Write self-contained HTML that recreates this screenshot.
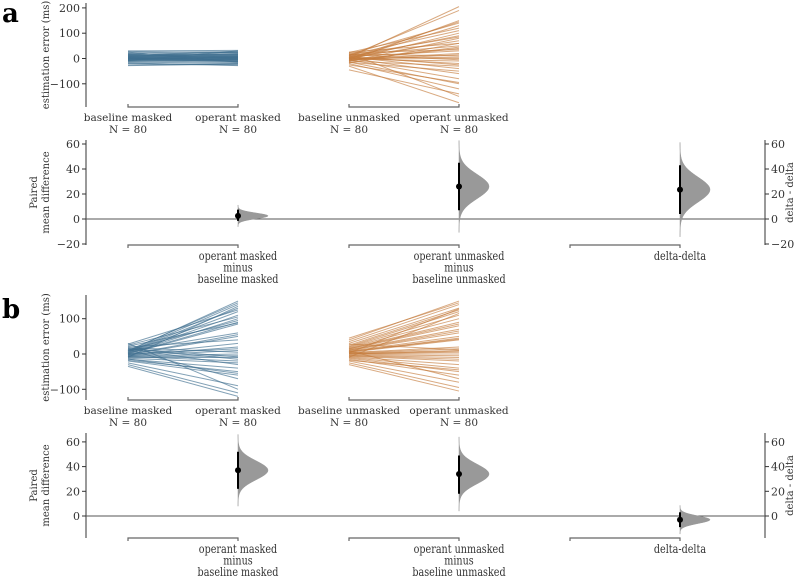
<!DOCTYPE html>
<html><head><meta charset="utf-8"><style>
body{margin:0;background:#fff}
svg{display:block;font-family:"DejaVu Serif","Liberation Serif",serif}
text{fill:#333}
</style></head><body>
<svg id="c" width="800" height="576" viewBox="0 0 800 576" xmlns="http://www.w3.org/2000/svg">
<text x="2" y="22" font-size="26" font-weight="bold" style="fill:#000">a</text>
<text x="2" y="318" font-size="26" font-weight="bold" style="fill:#000">b</text>
</svg>
<script>
const aMaskedBase=[-28,-20,-15,-12,-10,-8,-6,-5,-4,-3,-2,-1,0,0,1,2,3,4,5,6,7,8,9,10,12,14,16,18,20,22,25,28,-25,-18,-9,-7,3,11,15,30];
const aMaskedOp=[-22,-25,-18,-5,-14,-3,-10,6,-2,8,-12,4,2,-6,10,-4,12,0,-8,15,5,18,-1,20,7,3,25,14,9,28,-15,22,-20,-28,30,1,-11,16,24,32];
const aUnmaskedBase=[-45,-30,-25,-20,-18,-15,-12,-10,-8,-6,-5,-4,-3,-2,-1,0,1,2,3,4,5,6,8,10,12,14,15,16,18,20,22,24,25,-14,-7,0,9,11,-9,3];
const aUnmaskedOp=[-140,-175,-95,-120,60,-50,80,-30,150,40,-80,100,20,-10,130,5,-60,70,-20,205,90,-40,30,190,50,110,-5,140,10,-150,35,120,60,-100,15,145,-25,85,45,0];
const bMaskedBase=[-35,-30,-25,-20,-18,-15,-12,-10,-8,-6,-5,-4,-3,-2,-1,0,1,2,3,4,5,6,8,10,12,14,15,16,18,20,22,25,28,30,-14,-7,0,9,11,-9];
const bMaskedOp=[-120,-110,-90,-60,-50,-40,-25,-10,-5,0,10,20,30,50,55,85,90,100,110,120,130,140,150,145,-70,-30,-15,-8,5,40,88,105,125,-100,-55,-20,15,60,95,135];
const bUnmaskedBase=[-30,-25,-20,-15,-12,-10,-8,-6,-4,-2,0,1,2,3,4,5,6,8,10,12,14,16,18,20,22,25,30,35,40,45,-18,-5,0,7,11,15,-9,3,9,28];
const bUnmaskedOp=[-105,-95,-80,-60,-50,-40,-30,-20,-10,-5,0,5,10,15,20,40,45,50,60,70,80,90,100,110,120,125,130,140,150,145,-45,-15,8,42,65,85,115,128,-70,12];
const aEffects=[2.5,26,23.5];
const aCiLow=[-1.5,7,4];
const aCiHigh=[7.5,45,43];
const bEffects=[37,34,-3];
const bCiLow=[22,18,-9];
const bCiHigh=[52,49,3];
const effectLabels=[["operant masked","minus","baseline masked"],["operant unmasked","minus","baseline unmasked"],["delta-delta"]];
const groupLabels=["baseline masked","operant masked","baseline unmasked","operant unmasked"];
const aTopTicks=[200,100,0,-100];
const bTopTicks=[100,0,-100];
const aBotTicks=[60,40,20,0,-20];
const bBotTicks=[60,40,20,0];

const NS="http://www.w3.org/2000/svg";
const svg=document.getElementById('c');
function mk(tag,at,txt){const e=document.createElementNS(NS,tag);for(const k in at)e.setAttribute(k,at[k]);if(txt!=null)e.textContent=txt;svg.appendChild(e);return e;}
const fmt=v=>v<0?"\u2212"+(-v):""+v;
const X=[128,238,349,459];
const EX=[238,459,680];

function topPanel(p,y0,k,top,bot,ticks,sets){
  const Y=v=>y0-v*k;
  let ax=mk('line',{x1:86,y1:top,x2:86,y2:bot,stroke:'#333','stroke-width':1});
  
  ticks.forEach(t=>{
    let l=mk('line',{x1:82,y1:Y(t),x2:86,y2:Y(t),stroke:'#333'});
    
    let tx=mk('text',{x:80,y:Y(t)+4,'font-size':11,'text-anchor':'end'},fmt(t));
    
  });
  let tt=mk('text',{x:0,y:0,'font-size':10,'text-anchor':'middle',transform:`translate(49,${(top+bot)/2}) rotate(-90)`},'estimation error (ms)');
  
  sets.forEach((s,gi)=>{
    const xa=X[gi*2],xb=X[gi*2+1];
    for(let i=0;i<s.base.length;i++){
      let l=mk('line',{x1:xa,y1:Y(s.base[i]),x2:xb,y2:Y(s.op[i]),stroke:s.color,'stroke-width':1,'stroke-opacity':0.65});
      
    }
    let br=mk('path',{d:`M${xa} ${bot-3}V${bot}H${xb}V${bot-3}`,fill:'none',stroke:'#666','stroke-width':1.2});
    
  });
  X.forEach((x,i)=>{
    let t1=mk('text',{x:x,y:bot+14,'font-size':10.5,'text-anchor':'middle'},groupLabels[i]);
    
    let t2=mk('text',{x:x,y:bot+26,'font-size':10.5,'text-anchor':'middle'},'N = 80');
    
  });
}

function botPanel(p,y0,k,top,bot,ticks,eff,lo,hi){
  const Y=v=>y0-v*k;
  let ax=mk('line',{x1:86,y1:top,x2:86,y2:bot,stroke:'#333'});
  
  let rax=mk('line',{x1:765,y1:top,x2:765,y2:bot,stroke:'#333'});
  
  ticks.forEach(t=>{
    let l=mk('line',{x1:82,y1:Y(t),x2:86,y2:Y(t),stroke:'#333'});
    
    let tx=mk('text',{x:80,y:Y(t)+4,'font-size':11,'text-anchor':'end'},fmt(t));
    
    let l2=mk('line',{x1:765,y1:Y(t),x2:769,y2:Y(t),stroke:'#333'});
    
    let tx2=mk('text',{x:771,y:Y(t)+4,'font-size':11},fmt(t));
    
  });
  let zl=mk('line',{x1:86,y1:Y(0),x2:765,y2:Y(0),stroke:'#555','stroke-width':1});
  
  const cy=(top+bot)/2;
  let t1=mk('text',{x:0,y:0,'font-size':10,'text-anchor':'middle',transform:`translate(37,${cy}) rotate(-90)`},'Paired');
  
  let t2=mk('text',{x:0,y:0,'font-size':10,'text-anchor':'middle',transform:`translate(49,${cy}) rotate(-90)`},'mean difference');
  
  let t3=mk('text',{x:0,y:0,'font-size':10,'text-anchor':'middle',transform:`translate(793,${cy}) rotate(-90)`},'delta - delta');
  
  eff.forEach((m,i)=>{
    const x=EX[i],sd=(hi[i]-lo[i])/3.92;
    let d=`M${x} ${Y(m-3.8*sd)}`;
    for(let j=0;j<=60;j++){const v=m-3.8*sd+j*7.6*sd/60;const w=30*Math.exp(-0.5*((v-m)/sd)**2);d+=`L${x+w} ${Y(v)}`;}
    d+='Z';
    let vp=mk('path',{d:d,fill:'#999',stroke:'#999','stroke-width':0.5});
    
    let ci=mk('line',{x1:x,y1:Y(lo[i]),x2:x,y2:Y(hi[i]),stroke:'#000','stroke-width':2});
    
    let dot=mk('circle',{cx:x,cy:Y(m),r:3,fill:'#000'});
    
    let br=mk('path',{d:`M${x-110} ${bot+3}V${bot}H${x}V${bot+3}`,fill:'none',stroke:'#666','stroke-width':1.2});
    
    effectLabels[i].forEach((s,r)=>{
      let tl=mk('text',{x:x,y:bot+15+r*11.5,'font-size':12,'text-anchor':'middle'},s);
      tl.setAttribute('transform',`translate(${x},0) scale(0.8,1) translate(${-x},0)`);
      
    });
  });
}

topPanel('a',58.5,0.253,3,107,aTopTicks,[{base:aMaskedBase,op:aMaskedOp,color:'#3f6f8f'},{base:aUnmaskedBase,op:aUnmaskedOp,color:'#c47c3e'}]);
botPanel('a',219,1.25,140,245,aBotTicks,aEffects,aCiLow,aCiHigh);
topPanel('b',354,0.353,295,400,bTopTicks,[{base:bMaskedBase,op:bMaskedOp,color:'#3f6f8f'},{base:bUnmaskedBase,op:bUnmaskedOp,color:'#c47c3e'}]);
botPanel('b',516,1.235,433,538,bBotTicks,bEffects,bCiLow,bCiHigh);
</script>
</body></html>
